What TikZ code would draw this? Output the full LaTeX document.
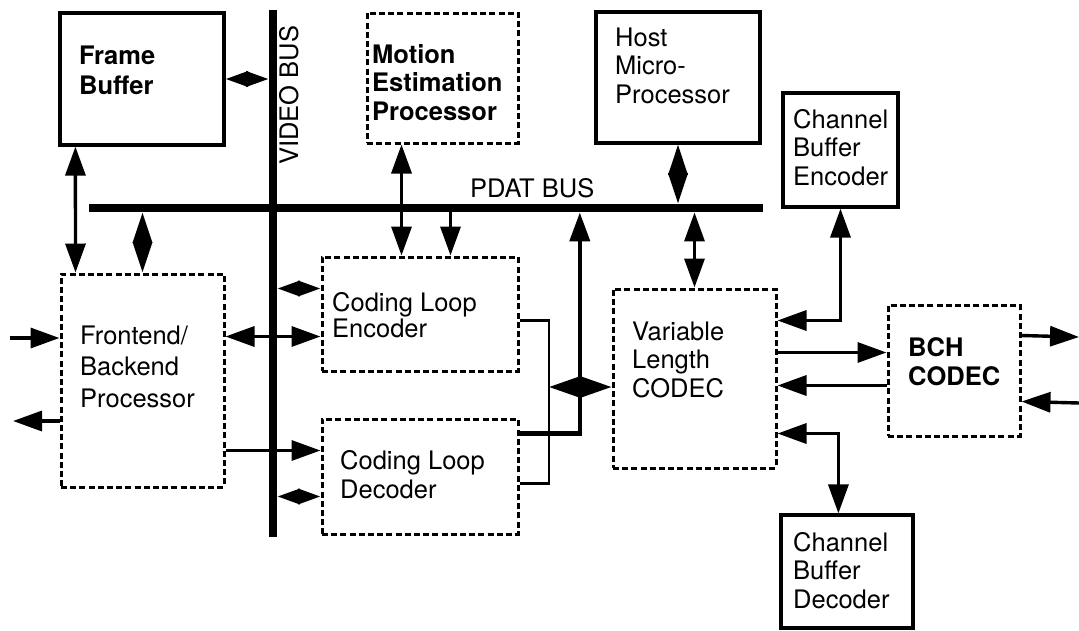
\documentclass[tikz,border=0pt]{standalone}
\usepackage{fontspec}
\setmainfont{TeX Gyre Heros}
\usetikzlibrary{arrows.meta,calc}
\tikzset{
  Hd/.tip={Triangle[length=29pt,width=20pt]},
  Dm/.tip={Triangle[length=22.5pt,width=15pt]},
  Dl/.tip={Triangle[length=30.5pt,width=19pt]},
  Dx/.tip={Triangle[length=31.5pt,width=21pt]},
  solidbox/.style={draw, line width=3.2pt, inner sep=0pt},
  dashbox/.style={draw, line width=3pt, dash pattern=on 6pt off 3.2pt, inner sep=0pt},
  busbar/.style={fill=black, draw=none, inner sep=0pt},
  conn/.style={line width=3.4pt},
  heavyconn/.style={line width=4.2pt},
  lightconn/.style={line width=2.4pt},
  lbl/.style={anchor=base west, inner sep=0pt, align=left,
    font=\fontsize{25.5}{28.5}\selectfont},
  blbl/.style={lbl, font=\fontsize{25.5}{28.5}\selectfont\bfseries},
}
\begin{document}
\begin{tikzpicture}[x=1pt,y=-1pt]
\fill[white] (0,0) rectangle (1079,630);
\useasboundingbox (0,0) rectangle (1079,630);

% buses
\node[busbar, minimum width=8.5pt, minimum height=527pt] (vbus) at (273,273.5) {};
\node[busbar, minimum width=674pt, minimum height=8.5pt] (pbus) at (426,208) {};

% blocks
\node[solidbox, minimum width=164pt, minimum height=132pt] (fb)   at (142,79) {};
\node[dashbox,  minimum width=163pt, minimum height=213pt] (fe)   at (142.5,380.5) {};
\node[dashbox,  minimum width=151pt, minimum height=130pt] (me)   at (442.5,78) {};
\node[solidbox, minimum width=164pt, minimum height=131pt] (host) at (678,77.5) {};
\node[solidbox, minimum width=115pt, minimum height=114pt] (cbe)  at (840.5,150) {};
\node[dashbox,  minimum width=196pt, minimum height=114pt] (enc)  at (420,314) {};
\node[dashbox,  minimum width=196pt, minimum height=115pt] (dec)  at (420,476.5) {};
\node[dashbox,  minimum width=163pt, minimum height=179pt] (vlc)  at (694.5,378.5) {};
\node[dashbox,  minimum width=132pt, minimum height=131pt] (bch)  at (954,370.5) {};
\node[solidbox, minimum width=132pt, minimum height=113pt] (cbd)  at (847,571.5) {};

% block texts (anchored at the baseline of the last line)
\node[blbl, font=\fontsize{25.5}{30}\selectfont\bfseries] (fbt) at (79,94) {Frame\\Buffer};
\node[blbl] (met)   at (372,120) {Motion\\Estimation\\Processor};
\node[lbl]  (hostt) at (615,103) {Host\\Micro-\\Processor};
\node[lbl]  (cbet)  at (793,185) {Channel\\Buffer\\Encoder};
\node[lbl, font=\fontsize{25.5}{31.5}\selectfont] (fet) at (80,407) {Frontend/\\Backend\\Processor};
\node[lbl, font=\fontsize{25.5}{26}\selectfont] (enct) at (332,337) {Coding Loop\\Encoder};
\node[lbl]  (dect)  at (340,498) {Coding Loop\\Decoder};
\node[lbl]  (vlct)  at (632,397) {Variable\\Length\\CODEC};
\node[blbl] (bcht)  at (908,385) {BCH\\CODEC};
\node[lbl]  (cbdt)  at (793,608) {Channel\\Buffer\\Decoder};

% bus labels
\node[lbl] (pdl) at (470,197) {PDAT BUS};
\node[lbl, rotate=90] (vbl) at (298,165) {VIDEO BUS};

% attachment points
\coordinate (e1) at ($(enc.north west)+(0,33)$);
\coordinate (e2) at ($(enc.north west)+(0,81)$);
\coordinate (d1) at ($(dec.north west)+(0,79)$);
\coordinate (d2) at ($(dec.north west)+(0,33)$);
\coordinate (e3) at ($(enc.north east)+(0,65)$);
\coordinate (d3) at ($(dec.north east)+(0,66)$);
\coordinate (d4) at ($(dec.north east)+(0,16)$);
\coordinate (jn) at (549,387);
\coordinate (bj) at ($(pbus.south west)+(491,0)$);
\coordinate (v2) at ($(vlc.north east)+(0,33)$);
\coordinate (v3) at ($(vlc.north east)+(0,65)$);
\coordinate (v4) at ($(vlc.north east)+(0,98)$);
\coordinate (v5) at ($(vlc.north east)+(0,146)$);
\coordinate (b1) at ($(bch.north east)+(0,32)$);
\coordinate (b2) at ($(bch.north east)+(0,98)$);
\coordinate (inL) at (10,338);
\coordinate (outL) at (13,421);
\coordinate (outR) at (1079,337);
\coordinate (inR) at (1079,403);

% frame buffer links
\draw[conn, Dm-Dm] (fb.east) -- (fb.east -| vbus.west);
\draw[conn, Hd-Hd] ([xshift=17pt]fb.south west) -- ([xshift=16pt]fe.north west);

% PDAT bus links
\draw[conn, Dl-Dl] (fe.north) -- (fe.north |- pbus.south);
\draw[conn, Hd-Hd] ([xshift=36pt]me.south west) -- ([xshift=81pt]enc.north west);
\draw[conn, -Hd] ([xshift=130pt]enc.north west |- pbus.south) -- ([xshift=130pt]enc.north west);
\draw[conn, Dl-Dl] (host.south) -- (host.south |- pbus.north);
\draw[conn, Hd-Hd] (vlc.north |- pbus.south) -- (vlc.north);

% video bus links
\draw[conn, Dm-Dm] (vbus.east |- e1) -- (e1);
\draw[conn, Dm-Dm] (vbus.east |- d1) -- (d1);

% frontend / backend links
\draw[conn, Hd-Hd] (fe.east |- e2) -- (e2);
\draw[conn, -Hd] (fe.east |- d2) -- (d2);
\draw[conn, -Hd] (inL) -- (fe.west |- inL);
\draw[conn, -Hd] (fe.west |- outL) -- (outL);

% coding loop outputs to the VLC
\draw[lightconn] (e3) -| (jn) |- (d3);
\draw[conn, Dx-Dx] (jn) -- (jn -| vlc.west);
\draw[heavyconn, -Hd] (d4) -| (bj);

% VLC links
\draw[conn, Hd-Hd] (cbe.south) |- (v2);
\draw[conn, -Hd] (v3) -- (v3 -| bch.west);
\draw[conn, -Hd] (v4 -| bch.west) -- (v4);
\draw[conn, Hd-Hd] (v5) -| ($(cbd.north west)+(59,0)$);

% BCH codec external lines
\draw[conn, -Hd] (b1) -- (outR);
\draw[conn, -Hd] (inR) -- (b2);
\end{tikzpicture}
\end{document}
